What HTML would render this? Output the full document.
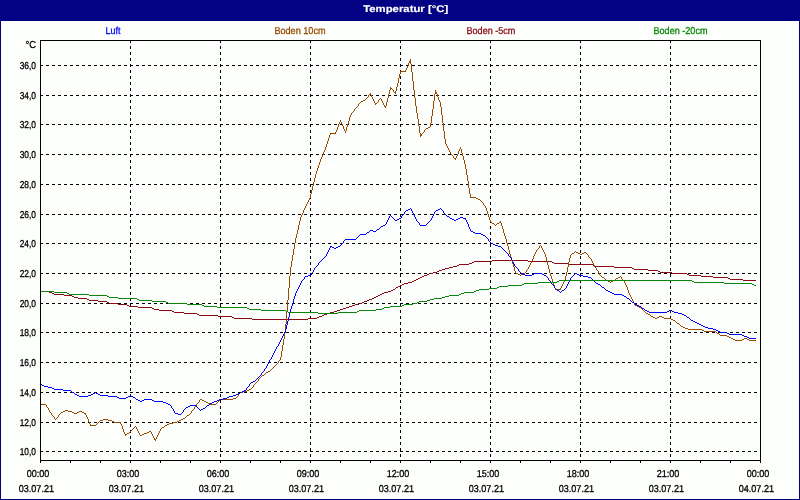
<!DOCTYPE html>
<html lang="de"><head><meta charset="utf-8"><title>Temperatur [°C]</title>
<style>
html,body{margin:0;padding:0;background:#fdfffc;}
body{width:800px;height:500px;overflow:hidden;font-family:"Liberation Sans",sans-serif;}
svg{display:block}
#w{width:800px;height:500px;will-change:transform}
text{font-family:"Liberation Sans",sans-serif;font-size:10px;fill:currentColor;stroke:currentColor;stroke-width:.3px;color:#000;text-rendering:geometricPrecision}
.t{font-weight:bold;fill:#fff;font-size:9.7px;stroke:#fff;stroke-width:.15px}
.g{stroke:#000;stroke-width:1;stroke-dasharray:3 3;fill:none;shape-rendering:crispEdges}
.a{stroke:#000;stroke-width:1;fill:none;shape-rendering:crispEdges}
.p{stroke:none;shape-rendering:crispEdges}
.c{fill:none;stroke-width:1;stroke-linejoin:round;stroke-linecap:butt;shape-rendering:crispEdges}
</style></head><body>
<div id="w">
<svg width="800" height="500" viewBox="0 0 800 500">
<rect x="0" y="0" width="800" height="500" fill="#040284"/>
<rect x="1" y="21" width="798" height="478" fill="#fdfffc"/>
<text class="t" x="363.2" y="11.9" textLength="85" lengthAdjust="spacingAndGlyphs">Temperatur [°C]</text>
<text x="105.6" y="34" textLength="14.8" lengthAdjust="spacingAndGlyphs" style="color:#0000ff">Luft</text>
<text x="274.4" y="34" textLength="51.2" lengthAdjust="spacingAndGlyphs" style="color:#964b00">Boden 10cm</text>
<text x="466.5" y="34" textLength="48.9" lengthAdjust="spacingAndGlyphs" style="color:#8b0a14">Boden -5cm</text>
<text x="653.5" y="34" textLength="54" lengthAdjust="spacingAndGlyphs" style="color:#0a870a">Boden -20cm</text>
<line class="g" x1="40" y1="65.5" x2="760" y2="65.5"/>
<line class="g" x1="40" y1="95.5" x2="760" y2="95.5"/>
<line class="g" x1="40" y1="124.5" x2="760" y2="124.5"/>
<line class="g" x1="40" y1="154.5" x2="760" y2="154.5"/>
<line class="g" x1="40" y1="184.5" x2="760" y2="184.5"/>
<line class="g" x1="40" y1="214.5" x2="760" y2="214.5"/>
<line class="g" x1="40" y1="243.5" x2="760" y2="243.5"/>
<line class="g" x1="40" y1="273.5" x2="760" y2="273.5"/>
<line class="g" x1="40" y1="303.5" x2="760" y2="303.5"/>
<line class="g" x1="40" y1="332.5" x2="760" y2="332.5"/>
<line class="g" x1="40" y1="362.5" x2="760" y2="362.5"/>
<line class="g" x1="40" y1="392.5" x2="760" y2="392.5"/>
<line class="g" x1="40" y1="422.5" x2="760" y2="422.5"/>
<line class="g" x1="40" y1="451.5" x2="760" y2="451.5"/>
<line class="g" x1="130.5" y1="40" x2="130.5" y2="460"/>
<line class="g" x1="220.5" y1="40" x2="220.5" y2="460"/>
<line class="g" x1="310.5" y1="40" x2="310.5" y2="460"/>
<line class="g" x1="400.5" y1="40" x2="400.5" y2="460"/>
<line class="g" x1="490.5" y1="40" x2="490.5" y2="460"/>
<line class="g" x1="580.5" y1="40" x2="580.5" y2="460"/>
<line class="g" x1="670.5" y1="40" x2="670.5" y2="460"/>
<path class="a" d="M40.5 461V463M70.5 461V463M100.5 461V463M130.5 461V463M160.5 461V463M190.5 461V463M220.5 461V463M250.5 461V463M280.5 461V463M310.5 461V463M340.5 461V463M370.5 461V463M400.5 461V463M430.5 461V463M460.5 461V463M490.5 461V463M520.5 461V463M550.5 461V463M580.5 461V463M610.5 461V463M640.5 461V463M670.5 461V463M700.5 461V463M730.5 461V463M760.5 461V463"/>
<text x="25.6" y="48" textLength="10.6" lengthAdjust="spacingAndGlyphs">°C</text>
<text x="19.7" y="69" textLength="16.3" lengthAdjust="spacingAndGlyphs">36,0</text>
<text x="19.7" y="99" textLength="16.3" lengthAdjust="spacingAndGlyphs">34,0</text>
<text x="19.7" y="128" textLength="16.3" lengthAdjust="spacingAndGlyphs">32,0</text>
<text x="19.7" y="158" textLength="16.3" lengthAdjust="spacingAndGlyphs">30,0</text>
<text x="19.7" y="188" textLength="16.3" lengthAdjust="spacingAndGlyphs">28,0</text>
<text x="19.7" y="218" textLength="16.3" lengthAdjust="spacingAndGlyphs">26,0</text>
<text x="19.7" y="247" textLength="16.3" lengthAdjust="spacingAndGlyphs">24,0</text>
<text x="19.7" y="277" textLength="16.3" lengthAdjust="spacingAndGlyphs">22,0</text>
<text x="19.7" y="307" textLength="16.3" lengthAdjust="spacingAndGlyphs">20,0</text>
<text x="19.7" y="336" textLength="16.3" lengthAdjust="spacingAndGlyphs">18,0</text>
<text x="19.7" y="366" textLength="16.3" lengthAdjust="spacingAndGlyphs">16,0</text>
<text x="19.7" y="396" textLength="16.3" lengthAdjust="spacingAndGlyphs">14,0</text>
<text x="19.7" y="426" textLength="16.3" lengthAdjust="spacingAndGlyphs">12,0</text>
<text x="19.7" y="455" textLength="16.3" lengthAdjust="spacingAndGlyphs">10,0</text>
<text x="26.7" y="477" textLength="22.6" lengthAdjust="spacingAndGlyphs">00:00</text>
<text x="18.7" y="492" textLength="35.3" lengthAdjust="spacingAndGlyphs">03.07.21</text>
<text x="116.7" y="477" textLength="22.6" lengthAdjust="spacingAndGlyphs">03:00</text>
<text x="108.7" y="492" textLength="35.3" lengthAdjust="spacingAndGlyphs">03.07.21</text>
<text x="206.7" y="477" textLength="22.6" lengthAdjust="spacingAndGlyphs">06:00</text>
<text x="198.7" y="492" textLength="35.3" lengthAdjust="spacingAndGlyphs">03.07.21</text>
<text x="296.7" y="477" textLength="22.6" lengthAdjust="spacingAndGlyphs">09:00</text>
<text x="288.7" y="492" textLength="35.3" lengthAdjust="spacingAndGlyphs">03.07.21</text>
<text x="386.7" y="477" textLength="22.6" lengthAdjust="spacingAndGlyphs">12:00</text>
<text x="378.7" y="492" textLength="35.3" lengthAdjust="spacingAndGlyphs">03.07.21</text>
<text x="476.7" y="477" textLength="22.6" lengthAdjust="spacingAndGlyphs">15:00</text>
<text x="468.7" y="492" textLength="35.3" lengthAdjust="spacingAndGlyphs">03.07.21</text>
<text x="566.7" y="477" textLength="22.6" lengthAdjust="spacingAndGlyphs">18:00</text>
<text x="558.7" y="492" textLength="35.3" lengthAdjust="spacingAndGlyphs">03.07.21</text>
<text x="656.7" y="477" textLength="22.6" lengthAdjust="spacingAndGlyphs">21:00</text>
<text x="648.7" y="492" textLength="35.3" lengthAdjust="spacingAndGlyphs">03.07.21</text>
<text x="746.7" y="477" textLength="22.6" lengthAdjust="spacingAndGlyphs">00:00</text>
<text x="738.7" y="492" textLength="35.3" lengthAdjust="spacingAndGlyphs">04.07.21</text>
<path class="p" fill="#8b0a14" d="M40 291h9v1h-9zM49 292h3v1h-3zM52 293h2v1h-2zM54 294h10v1h-10zM64 295h8v1h-8zM72 296h2v1h-2zM74 297h4v1h-4zM78 298h9v1h-9zM87 299h2v1h-2zM89 300h9v1h-9zM98 301h9v1h-9zM107 302h2v1h-2zM109 303h9v1h-9zM118 304h9v1h-9zM127 305h2v1h-2zM129 306h9v1h-9zM138 307h14v1h-14zM152 308h2v1h-2zM154 309h5v1h-5zM159 310h13v1h-13zM172 311h2v1h-2zM174 312h10v1h-10zM184 313h13v1h-13zM197 314h2v1h-2zM199 315h19v1h-19zM218 316h14v1h-14zM232 317h2v1h-2zM234 318h18v1h-18zM252 319h56v1h-56zM308 318h9v1h-9zM317 317h2v1h-2zM319 316h3v1h-3zM322 315h2v1h-2zM324 314h3v1h-3zM327 313h3v1h-3zM330 312h4v1h-4zM334 311h3v1h-3zM337 310h3v1h-3zM340 309h3v1h-3zM343 308h3v1h-3zM346 307h3v1h-3zM349 306h3v1h-3zM352 305h3v1h-3zM355 304h4v1h-4zM359 303h3v1h-3zM362 302h2v1h-2zM364 301h3v1h-3zM367 300h2v1h-2zM369 299h3v1h-3zM372 298h2v1h-2zM374 297h2v1h-2zM376 296h2v1h-2zM378 295h2v1h-2zM380 294h2v1h-2zM382 293h2v1h-2zM384 292h4v1h-4zM388 291h3v1h-3zM391 290h2v1h-2zM393 289h2v1h-2zM395 288h1v1h-1zM396 287h2v1h-2zM398 286h2v1h-2zM400 285h2v1h-2zM402 284h2v1h-2zM404 283h4v1h-4zM408 282h4v1h-4zM412 281h2v1h-2zM414 280h2v1h-2zM416 279h2v1h-2zM418 278h2v1h-2zM420 277h2v1h-2zM422 276h2v1h-2zM424 275h3v1h-3zM427 274h2v1h-2zM429 273h4v1h-4zM433 272h4v1h-4zM437 271h2v1h-2zM439 270h3v1h-3zM442 269h3v1h-3zM445 268h4v1h-4zM449 267h4v1h-4zM453 266h4v1h-4zM457 265h2v1h-2zM459 264h10v1h-10zM469 263h3v1h-3zM472 262h2v1h-2zM474 261h18v1h-18zM492 260h36v1h-36zM528 261h24v1h-24zM552 262h2v1h-2zM554 263h15v1h-15zM569 264h24v1h-24zM593 265h2v1h-2zM595 266h19v1h-19zM614 267h18v1h-18zM632 268h2v1h-2zM634 269h14v1h-14zM648 270h10v1h-10zM658 271h2v1h-2zM660 272h12v1h-12zM672 273h15v1h-15zM687 274h2v1h-2zM689 275h12v1h-12zM701 276h12v1h-12zM713 277h15v1h-15zM728 278h2v1h-2zM730 279h13v1h-13zM743 280h13v1h-13z"/>
<path class="p" fill="#964b00" d="M40 404h6v1h-6zM46 405h1v2h-1zM47 407h1v1h-1zM48 408h1v2h-1zM49 410h1v2h-1zM50 412h1v1h-1zM51 413h1v2h-1zM52 415h1v1h-1zM53 416h1v1h-1zM54 417h1v2h-1zM55 419h1v1h-1zM56 418h1v1h-1zM57 417h1v1h-1zM58 415h1v2h-1zM59 414h1v1h-1zM60 413h1v1h-1zM61 412h2v1h-2zM63 411h2v1h-2zM65 410h3v1h-3zM68 411h4v1h-4zM72 412h2v1h-2zM74 413h3v1h-3zM77 412h2v1h-2zM79 411h3v1h-3zM82 412h2v1h-2zM84 413h2v1h-2zM85 414h1v1h-1zM86 415h1v2h-1zM87 417h1v2h-1zM88 419h1v3h-1zM89 422h1v2h-1zM90 424h1v1h-1zM90 425h6v1h-6zM96 424h1v1h-1zM97 423h1v1h-1zM98 422h1v1h-1zM99 421h1v1h-1zM100 420h3v1h-3zM103 419h5v1h-5zM108 420h4v1h-4zM112 421h2v1h-2zM114 422h7v1h-7zM120 423h1v1h-1zM121 424h1v2h-1zM122 426h1v3h-1zM123 429h1v3h-1zM124 432h1v2h-1zM125 434h2v1h-2zM125 435h1v1h-1zM127 433h2v1h-2zM129 432h1v1h-1zM130 431h1v1h-1zM131 430h1v1h-1zM132 429h1v1h-1zM133 428h1v1h-1zM134 427h1v1h-1zM135 426h1v1h-1zM136 427h1v2h-1zM137 429h1v2h-1zM138 431h1v2h-1zM139 433h1v2h-1zM140 435h2v1h-2zM142 434h2v1h-2zM144 433h3v1h-3zM147 432h2v1h-2zM149 431h2v1h-2zM151 432h1v2h-1zM152 434h1v2h-1zM153 436h1v2h-1zM154 438h1v1h-1zM154 439h2v1h-2zM155 440h1v1h-1zM156 437h1v2h-1zM157 435h1v2h-1zM158 433h1v2h-1zM159 431h1v2h-1zM160 429h1v2h-1zM161 428h1v1h-1zM162 427h2v1h-2zM164 426h1v1h-1zM165 425h2v1h-2zM167 424h2v1h-2zM169 423h4v1h-4zM173 422h4v1h-4zM177 421h2v1h-2zM179 420h2v1h-2zM181 419h2v1h-2zM183 418h2v1h-2zM185 417h1v1h-1zM186 416h1v1h-1zM187 415h2v1h-2zM189 414h1v1h-1zM190 413h1v1h-1zM191 411h1v2h-1zM192 410h1v1h-1zM193 409h1v1h-1zM194 407h1v2h-1zM195 406h1v1h-1zM196 404h1v2h-1zM197 403h1v1h-1zM198 402h1v1h-1zM199 400h1v2h-1zM200 399h2v1h-2zM202 400h2v1h-2zM204 401h2v1h-2zM206 402h2v1h-2zM208 403h2v1h-2zM210 404h6v1h-6zM216 403h1v1h-1zM217 402h1v1h-1zM218 401h1v1h-1zM219 400h1v1h-1zM220 399h13v1h-13zM233 398h3v1h-3zM236 397h1v1h-1zM237 396h1v1h-1zM238 394h1v2h-1zM239 393h1v1h-1zM240 392h3v1h-3zM243 391h4v1h-4zM247 390h2v1h-2zM249 389h2v1h-2zM251 388h1v1h-1zM252 387h1v1h-1zM253 385h1v2h-1zM254 384h1v1h-1zM255 383h1v1h-1zM256 382h1v1h-1zM257 381h1v1h-1zM258 379h1v2h-1zM259 378h1v1h-1zM260 377h1v1h-1zM261 376h1v1h-1zM262 375h2v1h-2zM264 374h1v1h-1zM265 373h1v1h-1zM266 372h2v1h-2zM268 371h2v1h-2zM270 370h1v1h-1zM271 369h1v1h-1zM272 368h1v1h-1zM273 367h1v1h-1zM274 366h1v1h-1zM275 365h1v1h-1zM276 364h1v1h-1zM277 363h1v1h-1zM278 361h1v2h-1zM279 360h1v1h-1zM280 357h1v3h-1zM281 351h1v6h-1zM282 345h1v6h-1zM283 339h1v6h-1zM284 333h1v6h-1zM285 324h1v9h-1zM286 312h1v12h-1zM287 300h1v12h-1zM288 288h1v12h-1zM289 276h1v12h-1zM290 267h1v9h-1zM291 261h1v6h-1zM292 255h1v6h-1zM293 249h1v6h-1zM294 243h1v6h-1zM295 238h1v5h-1zM296 234h1v4h-1zM297 230h1v4h-1zM298 225h1v5h-1zM299 221h1v4h-1zM300 217h1v4h-1zM301 215h1v2h-1zM302 213h1v2h-1zM303 210h1v3h-1zM304 208h1v2h-1zM305 206h1v2h-1zM306 204h1v2h-1zM307 202h1v2h-1zM308 200h1v2h-1zM309 198h1v2h-1zM310 194h1v4h-1zM311 190h1v4h-1zM312 186h1v4h-1zM313 182h1v4h-1zM314 178h1v4h-1zM315 174h1v4h-1zM316 171h1v3h-1zM317 168h1v3h-1zM318 165h1v3h-1zM319 162h1v3h-1zM320 159h1v3h-1zM321 157h1v2h-1zM322 155h1v2h-1zM323 152h1v3h-1zM324 150h1v2h-1zM325 147h1v3h-1zM326 144h1v3h-1zM327 141h1v3h-1zM328 138h1v3h-1zM329 135h1v3h-1zM330 133h6v1h-6zM330 134h1v1h-1zM335 132h1v1h-1zM336 130h1v2h-1zM337 127h1v3h-1zM338 124h1v3h-1zM339 122h1v2h-1zM340 120h1v2h-1zM341 122h1v2h-1zM342 124h1v2h-1zM343 126h1v3h-1zM344 129h1v2h-1zM345 131h1v2h-1zM346 127h1v4h-1zM347 124h1v3h-1zM348 121h1v3h-1zM349 117h1v4h-1zM350 115h1v2h-1zM351 113h1v2h-1zM352 112h1v1h-1zM353 111h1v1h-1zM354 109h1v2h-1zM355 108h1v1h-1zM356 107h1v1h-1zM357 106h1v1h-1zM358 104h1v2h-1zM359 103h1v1h-1zM360 102h1v1h-1zM361 101h2v1h-2zM363 100h2v1h-2zM365 99h1v1h-1zM366 98h1v1h-1zM367 97h1v1h-1zM368 95h1v2h-1zM369 94h2v1h-2zM370 93h1v1h-1zM371 95h1v2h-1zM372 97h1v2h-1zM373 99h1v2h-1zM374 101h1v2h-1zM375 103h2v1h-2zM375 104h1v1h-1zM377 102h1v1h-1zM378 100h1v2h-1zM379 99h1v1h-1zM380 98h1v1h-1zM381 99h1v2h-1zM382 101h1v2h-1zM383 103h1v2h-1zM384 105h1v1h-1zM384 106h2v1h-2zM385 107h1v1h-1zM386 102h1v4h-1zM387 98h1v4h-1zM388 94h1v4h-1zM389 90h1v4h-1zM390 87h1v1h-1zM390 88h2v1h-2zM390 89h1v1h-1zM392 89h1v1h-1zM393 90h1v2h-1zM394 92h2v1h-2zM395 91h1v1h-1zM395 93h1v1h-1zM396 87h1v4h-1zM397 83h1v4h-1zM398 78h1v5h-1zM399 74h1v4h-1zM400 71h6v1h-6zM400 72h1v2h-1zM405 70h1v1h-1zM406 68h1v2h-1zM407 66h1v2h-1zM408 63h1v3h-1zM409 61h2v1h-2zM409 62h2v1h-2zM410 59h1v2h-1zM410 63h1v1h-1zM411 64h1v8h-1zM412 72h1v9h-1zM413 81h1v9h-1zM414 90h1v8h-1zM415 98h1v8h-1zM416 106h1v7h-1zM417 113h1v6h-1zM418 119h1v7h-1zM419 126h1v7h-1zM420 133h1v1h-1zM420 134h2v1h-2zM420 135h2v1h-2zM420 136h1v1h-1zM422 133h1v1h-1zM423 132h1v1h-1zM424 130h1v2h-1zM425 129h1v1h-1zM426 128h2v1h-2zM428 127h2v1h-2zM430 123h1v4h-1zM431 116h1v7h-1zM432 109h1v7h-1zM433 101h1v8h-1zM434 94h1v7h-1zM435 90h1v2h-1zM435 92h2v1h-2zM435 93h2v1h-2zM437 94h1v3h-1zM438 97h1v3h-1zM439 100h1v2h-1zM440 102h1v5h-1zM441 107h1v8h-1zM442 115h1v8h-1zM443 123h1v8h-1zM444 131h1v8h-1zM445 139h1v5h-1zM446 144h1v2h-1zM447 146h1v2h-1zM448 148h1v2h-1zM449 150h1v2h-1zM450 152h1v2h-1zM451 154h1v1h-1zM452 155h1v1h-1zM453 156h1v2h-1zM454 158h2v1h-2zM455 159h1v1h-1zM456 156h1v2h-1zM457 154h1v2h-1zM458 151h1v3h-1zM459 149h1v2h-1zM460 147h1v2h-1zM461 149h1v4h-1zM462 153h1v3h-1zM463 156h1v4h-1zM464 160h1v4h-1zM465 164h1v5h-1zM466 169h1v6h-1zM467 175h1v6h-1zM468 181h1v7h-1zM469 188h1v6h-1zM470 194h1v3h-1zM470 197h6v1h-6zM476 198h2v1h-2zM478 199h2v1h-2zM480 200h1v1h-1zM481 201h1v1h-1zM482 202h1v1h-1zM483 203h1v2h-1zM484 205h1v1h-1zM485 206h1v2h-1zM486 208h1v3h-1zM487 211h1v3h-1zM488 214h1v3h-1zM489 217h1v3h-1zM490 220h1v2h-1zM491 222h1v1h-1zM492 223h2v1h-2zM494 224h1v1h-1zM495 225h1v1h-1zM496 224h1v1h-1zM497 223h2v1h-2zM499 222h2v1h-2zM500 221h1v1h-1zM501 223h1v3h-1zM502 226h1v3h-1zM503 229h1v4h-1zM504 233h1v3h-1zM505 236h1v3h-1zM506 239h1v4h-1zM507 243h1v3h-1zM508 246h1v4h-1zM509 250h1v4h-1zM510 254h1v3h-1zM511 257h1v4h-1zM512 261h1v3h-1zM513 264h1v3h-1zM514 267h1v4h-1zM515 271h1v2h-1zM516 273h2v1h-2zM518 274h2v1h-2zM520 275h1v1h-1zM521 274h2v1h-2zM523 273h2v1h-2zM525 272h1v1h-1zM526 270h1v2h-1zM527 269h1v1h-1zM528 267h1v2h-1zM529 265h1v2h-1zM530 263h1v2h-1zM531 261h1v2h-1zM532 259h1v2h-1zM533 256h1v3h-1zM534 254h1v2h-1zM535 252h1v2h-1zM536 250h1v2h-1zM537 249h1v1h-1zM538 248h1v1h-1zM539 246h1v2h-1zM540 245h1v1h-1zM541 246h1v2h-1zM542 248h1v2h-1zM543 250h1v2h-1zM544 252h1v2h-1zM545 254h1v3h-1zM546 257h1v4h-1zM547 261h1v4h-1zM548 265h1v4h-1zM549 269h1v4h-1zM550 273h1v3h-1zM551 276h1v3h-1zM552 279h1v3h-1zM553 282h1v3h-1zM554 285h1v3h-1zM555 288h1v1h-1zM555 289h6v1h-6zM560 288h1v1h-1zM561 286h1v2h-1zM562 284h1v2h-1zM563 282h1v2h-1zM564 280h1v2h-1zM565 276h1v4h-1zM566 272h1v4h-1zM567 267h1v5h-1zM568 262h1v5h-1zM569 258h1v4h-1zM570 255h1v3h-1zM571 254h1v1h-1zM572 253h2v1h-2zM574 252h1v1h-1zM575 251h1v1h-1zM576 252h2v1h-2zM578 253h2v1h-2zM580 254h2v1h-2zM582 253h2v1h-2zM584 252h2v1h-2zM586 253h1v1h-1zM587 254h1v1h-1zM588 255h1v2h-1zM589 257h1v1h-1zM590 258h1v1h-1zM591 259h1v2h-1zM592 261h1v2h-1zM593 263h1v2h-1zM594 265h1v2h-1zM595 267h1v1h-1zM596 268h1v2h-1zM597 270h1v1h-1zM598 271h1v2h-1zM599 273h1v2h-1zM600 275h1v1h-1zM601 276h1v1h-1zM602 277h2v1h-2zM604 278h1v1h-1zM605 279h1v1h-1zM606 280h2v1h-2zM608 281h2v1h-2zM610 282h1v1h-1zM611 281h2v1h-2zM613 280h2v1h-2zM615 279h1v1h-1zM616 278h2v1h-2zM618 277h2v1h-2zM620 276h1v1h-1zM621 277h1v2h-1zM622 279h1v1h-1zM623 280h1v1h-1zM624 281h1v2h-1zM625 283h1v2h-1zM626 285h1v2h-1zM627 287h1v3h-1zM628 290h1v3h-1zM629 293h1v2h-1zM630 295h1v2h-1zM631 297h1v2h-1zM632 299h1v2h-1zM633 301h1v2h-1zM634 303h1v2h-1zM635 305h2v1h-2zM637 306h2v1h-2zM639 307h2v1h-2zM641 308h1v1h-1zM642 309h1v1h-1zM643 310h1v1h-1zM644 311h1v1h-1zM645 312h1v1h-1zM646 313h2v1h-2zM648 314h2v1h-2zM650 315h1v1h-1zM651 316h2v1h-2zM653 317h2v1h-2zM655 318h2v1h-2zM657 317h2v1h-2zM659 316h3v1h-3zM662 317h2v1h-2zM664 318h7v1h-7zM671 319h2v1h-2zM673 320h2v1h-2zM675 321h1v1h-1zM676 322h1v1h-1zM677 323h2v1h-2zM679 324h1v1h-1zM680 325h1v1h-1zM681 326h2v1h-2zM683 327h2v1h-2zM685 328h3v1h-3zM688 329h14v1h-14zM702 330h2v1h-2zM704 331h12v1h-12zM716 332h1v1h-1zM717 333h2v1h-2zM719 334h1v1h-1zM720 335h7v1h-7zM727 336h2v1h-2zM729 337h2v1h-2zM731 338h2v1h-2zM733 339h2v1h-2zM735 340h7v1h-7zM742 339h2v1h-2zM744 338h3v1h-3zM747 339h2v1h-2zM749 340h7v1h-7z"/>
<path class="p" fill="#0000ff" d="M40 384h2v1h-2zM42 385h2v1h-2zM44 386h4v1h-4zM48 387h4v1h-4zM52 388h2v1h-2zM54 389h9v1h-9zM63 390h8v1h-8zM71 391h1v1h-1zM72 392h2v1h-2zM74 393h1v1h-1zM75 394h2v1h-2zM77 395h2v1h-2zM79 396h9v1h-9zM88 395h3v1h-3zM91 394h2v1h-2zM93 393h2v1h-2zM95 392h1v1h-1zM96 393h2v1h-2zM98 394h2v1h-2zM100 395h8v1h-8zM108 396h9v1h-9zM117 397h2v1h-2zM119 398h7v1h-7zM126 397h2v1h-2zM128 396h2v1h-2zM130 395h1v1h-1zM131 396h2v1h-2zM133 397h2v1h-2zM135 398h1v1h-1zM136 399h2v1h-2zM138 400h2v1h-2zM140 401h2v1h-2zM142 400h2v1h-2zM144 399h8v1h-8zM152 400h2v1h-2zM154 401h9v1h-9zM163 402h3v1h-3zM166 403h2v1h-2zM168 404h2v1h-2zM170 405h1v1h-1zM171 406h1v2h-1zM172 408h1v1h-1zM173 409h1v2h-1zM174 411h1v2h-1zM175 413h3v1h-3zM178 414h3v1h-3zM181 413h1v1h-1zM182 412h1v1h-1zM183 410h1v2h-1zM184 409h1v1h-1zM185 408h1v1h-1zM186 407h2v1h-2zM188 406h2v1h-2zM190 405h6v1h-6zM196 406h1v1h-1zM197 407h1v1h-1zM198 408h1v1h-1zM199 409h1v1h-1zM200 410h1v1h-1zM201 409h2v1h-2zM203 408h2v1h-2zM205 407h1v1h-1zM206 406h1v1h-1zM207 405h2v1h-2zM209 404h1v1h-1zM210 403h2v1h-2zM212 402h2v1h-2zM214 401h3v1h-3zM217 400h2v1h-2zM219 399h4v1h-4zM223 398h4v1h-4zM227 397h2v1h-2zM229 396h4v1h-4zM233 395h3v1h-3zM236 394h2v1h-2zM238 393h2v1h-2zM240 392h2v1h-2zM242 391h2v1h-2zM244 390h2v1h-2zM246 388h1v2h-1zM247 387h1v1h-1zM248 386h1v1h-1zM249 384h1v2h-1zM250 383h1v1h-1zM251 382h2v1h-2zM253 381h2v1h-2zM255 380h1v1h-1zM256 379h1v1h-1zM257 378h1v1h-1zM258 377h1v1h-1zM259 376h1v1h-1zM260 375h1v1h-1zM261 373h1v2h-1zM262 372h1v1h-1zM263 371h1v1h-1zM264 369h1v2h-1zM265 368h1v1h-1zM266 366h1v2h-1zM267 364h1v2h-1zM268 362h1v2h-1zM269 360h1v2h-1zM270 359h1v1h-1zM271 357h1v2h-1zM272 355h1v2h-1zM273 353h1v2h-1zM274 351h1v2h-1zM275 349h1v2h-1zM276 347h1v2h-1zM277 346h1v1h-1zM278 344h1v2h-1zM279 342h1v2h-1zM280 340h1v2h-1zM281 338h1v2h-1zM282 336h1v2h-1zM283 334h1v2h-1zM284 332h1v2h-1zM285 329h1v3h-1zM286 325h1v4h-1zM287 321h1v4h-1zM288 317h1v4h-1zM289 313h1v4h-1zM290 309h1v4h-1zM291 306h1v3h-1zM292 303h1v3h-1zM293 299h1v4h-1zM294 296h1v3h-1zM295 293h1v3h-1zM296 291h1v2h-1zM297 289h1v2h-1zM298 287h1v2h-1zM299 285h1v2h-1zM300 283h1v2h-1zM301 281h1v2h-1zM302 280h1v1h-1zM303 279h1v1h-1zM304 277h1v2h-1zM305 276h3v1h-3zM308 275h3v1h-3zM311 273h1v2h-1zM312 272h1v1h-1zM313 270h1v2h-1zM314 268h1v2h-1zM315 267h1v1h-1zM316 266h1v1h-1zM317 265h1v1h-1zM318 263h1v2h-1zM319 262h1v1h-1zM320 261h1v1h-1zM321 260h1v1h-1zM322 259h1v1h-1zM323 258h1v1h-1zM324 257h1v1h-1zM325 256h1v1h-1zM326 254h1v2h-1zM327 252h1v2h-1zM328 250h1v2h-1zM329 248h1v2h-1zM330 246h2v1h-2zM330 247h1v1h-1zM332 247h2v1h-2zM334 248h2v1h-2zM336 247h2v1h-2zM338 246h2v1h-2zM340 245h1v1h-1zM341 244h1v1h-1zM342 243h1v1h-1zM343 241h1v2h-1zM344 240h1v1h-1zM345 239h11v1h-11zM356 238h1v1h-1zM357 237h1v1h-1zM358 236h1v1h-1zM359 235h1v1h-1zM360 234h6v1h-6zM366 233h1v1h-1zM367 232h2v1h-2zM369 231h1v1h-1zM370 230h3v1h-3zM373 231h3v1h-3zM376 230h1v1h-1zM377 229h2v1h-2zM379 228h1v1h-1zM380 227h1v1h-1zM381 226h2v1h-2zM383 225h2v1h-2zM385 224h1v1h-1zM386 222h1v2h-1zM387 220h1v2h-1zM388 218h1v2h-1zM389 216h1v2h-1zM390 215h1v1h-1zM391 216h1v1h-1zM392 217h1v1h-1zM393 218h1v1h-1zM394 219h1v1h-1zM395 220h2v1h-2zM397 219h2v1h-2zM399 218h2v1h-2zM401 216h1v2h-1zM402 215h1v1h-1zM403 214h1v1h-1zM404 212h1v2h-1zM405 211h1v1h-1zM406 210h2v1h-2zM408 209h2v1h-2zM410 208h1v1h-1zM411 209h1v2h-1zM412 211h1v2h-1zM413 213h1v2h-1zM414 215h1v2h-1zM415 217h1v2h-1zM416 219h1v2h-1zM417 221h1v1h-1zM418 222h1v1h-1zM419 223h1v2h-1zM420 225h6v1h-6zM426 224h1v1h-1zM427 223h1v1h-1zM428 222h1v1h-1zM429 221h1v1h-1zM430 220h1v1h-1zM431 218h1v2h-1zM432 216h1v2h-1zM433 214h1v2h-1zM434 212h1v2h-1zM435 211h1v1h-1zM436 210h2v1h-2zM438 209h2v1h-2zM440 208h1v1h-1zM441 209h1v1h-1zM442 210h1v1h-1zM443 211h1v2h-1zM444 213h1v1h-1zM445 214h1v1h-1zM446 215h1v1h-1zM447 216h2v1h-2zM449 217h1v1h-1zM450 218h2v1h-2zM452 219h2v1h-2zM454 220h2v1h-2zM456 219h2v1h-2zM458 218h2v1h-2zM460 217h3v1h-3zM463 218h3v1h-3zM465 219h1v1h-1zM466 220h1v2h-1zM467 222h1v2h-1zM468 224h1v3h-1zM469 227h1v2h-1zM470 229h1v2h-1zM471 231h2v1h-2zM473 232h2v1h-2zM475 233h6v1h-6zM481 234h2v1h-2zM483 235h2v1h-2zM485 236h1v1h-1zM486 237h1v1h-1zM487 238h1v1h-1zM488 239h1v2h-1zM489 241h1v1h-1zM490 242h1v1h-1zM491 243h2v1h-2zM493 244h2v1h-2zM495 245h3v1h-3zM498 246h3v1h-3zM501 247h1v1h-1zM502 248h1v1h-1zM503 249h1v1h-1zM504 250h1v1h-1zM505 251h1v1h-1zM506 252h1v1h-1zM507 253h1v1h-1zM508 254h1v2h-1zM509 256h1v1h-1zM510 257h1v1h-1zM511 258h1v2h-1zM512 260h1v2h-1zM513 262h1v2h-1zM514 264h1v2h-1zM515 266h1v1h-1zM516 267h1v1h-1zM517 268h1v1h-1zM518 269h1v2h-1zM519 271h1v1h-1zM520 272h1v1h-1zM521 273h2v1h-2zM523 274h2v1h-2zM525 275h7v1h-7zM532 274h2v1h-2zM534 273h8v1h-8zM542 274h2v1h-2zM544 275h2v1h-2zM546 276h1v1h-1zM547 277h1v1h-1zM548 278h1v2h-1zM549 280h1v1h-1zM550 281h1v1h-1zM551 282h1v2h-1zM552 284h1v1h-1zM553 285h1v1h-1zM554 286h1v2h-1zM555 288h1v1h-1zM556 289h1v1h-1zM557 290h2v1h-2zM559 291h1v1h-1zM560 292h1v1h-1zM561 291h1v1h-1zM562 290h2v1h-2zM564 289h1v1h-1zM565 288h1v1h-1zM566 286h1v2h-1zM567 284h1v2h-1zM568 282h1v2h-1zM569 280h1v2h-1zM570 278h1v2h-1zM571 277h1v1h-1zM572 276h1v1h-1zM573 275h1v1h-1zM574 274h1v1h-1zM575 273h2v1h-2zM577 274h2v1h-2zM579 275h4v1h-4zM583 276h5v1h-5zM588 277h3v1h-3zM591 278h1v1h-1zM592 279h1v1h-1zM593 280h1v1h-1zM594 281h1v1h-1zM595 282h1v1h-1zM596 283h2v1h-2zM598 284h2v1h-2zM600 285h1v1h-1zM601 286h1v1h-1zM602 287h2v1h-2zM604 288h1v1h-1zM605 289h1v1h-1zM606 290h2v1h-2zM608 291h2v1h-2zM610 292h2v1h-2zM612 293h2v1h-2zM614 294h8v1h-8zM622 295h2v1h-2zM624 296h2v1h-2zM626 297h1v1h-1zM627 298h2v1h-2zM629 299h1v1h-1zM630 300h1v1h-1zM631 301h1v1h-1zM632 302h2v1h-2zM634 303h1v1h-1zM635 304h2v1h-2zM637 305h2v1h-2zM639 306h2v1h-2zM641 307h1v1h-1zM642 308h2v1h-2zM644 309h1v1h-1zM645 310h2v1h-2zM647 311h2v1h-2zM649 312h18v1h-18zM667 311h2v1h-2zM669 310h3v1h-3zM672 311h2v1h-2zM674 312h4v1h-4zM678 313h4v1h-4zM682 314h2v1h-2zM684 315h2v1h-2zM686 316h1v1h-1zM687 317h2v1h-2zM689 318h1v1h-1zM690 319h1v1h-1zM691 320h2v1h-2zM693 321h2v1h-2zM695 322h2v1h-2zM697 323h2v1h-2zM699 324h2v1h-2zM701 325h2v1h-2zM703 326h2v1h-2zM705 327h3v1h-3zM708 328h5v1h-5zM713 329h3v1h-3zM716 330h2v1h-2zM718 331h2v1h-2zM720 332h7v1h-7zM727 333h2v1h-2zM729 334h13v1h-13zM742 335h2v1h-2zM744 336h3v1h-3zM747 337h2v1h-2zM749 338h7v1h-7z"/>
<path class="p" fill="#0a870a" d="M40 291h14v1h-14zM54 292h13v1h-13zM67 293h2v1h-2zM69 294h20v1h-20zM89 295h18v1h-18zM107 296h2v1h-2zM109 297h9v1h-9zM118 298h19v1h-19zM137 299h2v1h-2zM139 300h13v1h-13zM152 301h14v1h-14zM166 302h2v1h-2zM168 303h19v1h-19zM187 304h15v1h-15zM202 305h2v1h-2zM204 306h13v1h-13zM217 307h30v1h-30zM247 308h2v1h-2zM249 309h12v1h-12zM261 310h25v1h-25zM286 311h2v1h-2zM288 312h30v1h-30zM318 313h20v1h-20zM338 312h19v1h-19zM357 311h2v1h-2zM359 310h17v1h-17zM376 309h6v1h-6zM382 308h2v1h-2zM384 307h6v1h-6zM390 306h12v1h-12zM402 305h2v1h-2zM404 304h9v1h-9zM413 303h4v1h-4zM417 302h2v1h-2zM419 301h8v1h-8zM427 300h3v1h-3zM430 299h4v1h-4zM434 298h8v1h-8zM442 297h3v1h-3zM445 296h4v1h-4zM449 295h10v1h-10zM459 294h2v1h-2zM461 293h3v1h-3zM464 292h10v1h-10zM474 291h2v1h-2zM476 290h3v1h-3zM479 289h10v1h-10zM489 288h8v1h-8zM497 287h2v1h-2zM499 286h9v1h-9zM508 285h14v1h-14zM522 284h2v1h-2zM524 283h14v1h-14zM538 282h19v1h-19zM557 281h2v1h-2zM559 280h133v1h-133zM692 281h2v1h-2zM694 282h30v1h-30zM724 283h28v1h-28zM752 284h2v1h-2zM754 285h2v1h-2z"/>
<rect class="a" x="40.5" y="40.5" width="720" height="420"/>
</svg>
</div>
</body></html>
